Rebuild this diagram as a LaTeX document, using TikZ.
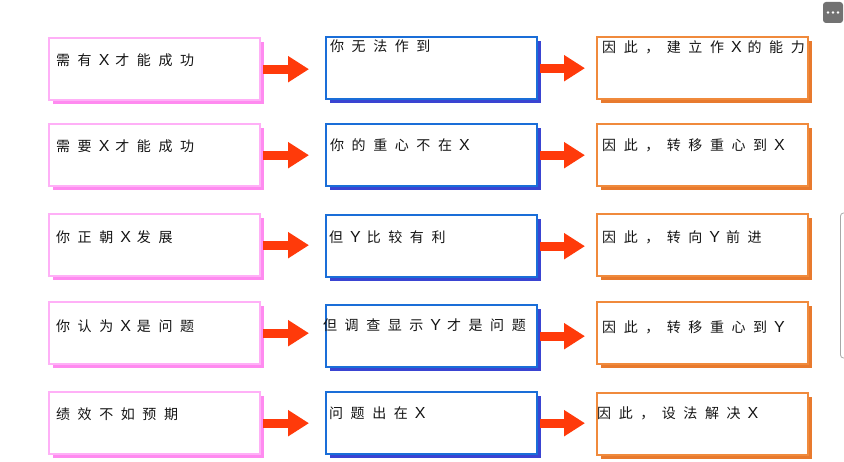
\documentclass[tikz,border=0pt]{standalone}
\usepackage{fontspec}
\newfontfamily\cjk[LetterSpace=54]{Noto Sans CJK SC}
\newfontfamily\latn{Liberation Sans}
\newcommand{\LX}[1]{\hspace{7pt}{\latn\fontsize{16}{16}\selectfont #1}\hspace{6pt}}
\usetikzlibrary{arrows.meta,calc,shadows}
\definecolor{pinkline}{HTML}{FFB0F7}
\definecolor{pinkshadow}{HTML}{FF8AF0}
\definecolor{blueline}{HTML}{1A6ED8}
\definecolor{blueshadow}{HTML}{3A44D2}
\definecolor{orangeline}{HTML}{F08A3C}
\definecolor{orangeshadow}{HTML}{E87A2E}
\definecolor{arrowred}{HTML}{FF3A0A}
\definecolor{textgray}{HTML}{141414}
\definecolor{uigray}{HTML}{727272}
\definecolor{paneledge}{HTML}{A8A8A8}
\tikzset{
  boxbase/.style={draw, line width=2.4pt, fill=white, minimum width=211pt,
    minimum height=62pt, inner sep=0pt, anchor=north west},
  pinkbox/.style={boxbase, draw=pinkline,
    drop shadow={shadow xshift=3.5pt, shadow yshift=-3.5pt, fill=pinkshadow, opacity=1}},
  bluebox/.style={boxbase, draw=blueline,
    drop shadow={shadow xshift=3.5pt, shadow yshift=-3.5pt, fill=blueshadow, opacity=1}},
  orangebox/.style={boxbase, draw=orangeline,
    drop shadow={shadow xshift=3.5pt, shadow yshift=-3.5pt, fill=orangeshadow, opacity=1}},
  txt/.style={font=\cjk\fontsize{14}{16}\selectfont, text=textgray, anchor=west, inner sep=0pt},
  flowa/.style={draw=arrowred, line width=9pt, -{Triangle[length=21pt,width=25pt]},
    shorten <=1.5pt, shorten >=16pt},
  flowb/.style={draw=arrowred, line width=9pt, -{Triangle[length=21pt,width=25pt]},
    shorten <=1.5pt, shorten >=11pt},
  uibutton/.style={fill=uigray, rounded corners=3pt, minimum width=20pt, minimum height=21pt, inner sep=0pt},
  uidot/.style={circle, fill=white, minimum size=2.6pt, inner sep=0pt}
}
\begin{document}
\begin{tikzpicture}[x=1pt,y=-1pt]
\clip (0,0) rectangle (844,462);
\fill[white] (0,0) rectangle (844,462);

% column 1
\node[pinkbox] (a1) at (48,37) {};
\node[pinkbox] (a2) at (48,123) {};
\node[pinkbox] (a3) at (48,213) {};
\node[pinkbox] (a4) at (48,301) {};
\node[pinkbox] (a5) at (48,391) {};
% column 2
\node[bluebox] (b1) at (325,36) {};
\node[bluebox] (b2) at (325,123) {};
\node[bluebox] (b3) at (325,214) {};
\node[bluebox] (b4) at (325,304) {};
\node[bluebox] (b5) at (325,391) {};
% column 3
\node[orangebox] (c1) at (596,36) {};
\node[orangebox] (c2) at (596,123) {};
\node[orangebox] (c3) at (596,213) {};
\node[orangebox] (c4) at (596,301) {};
\node[orangebox] (c5) at (596,392) {};

% texts
\node[txt] (a1t) at ($(a1.north west)+(8,23)$) {需有\LX{X}才能成功};
\node[txt] (a2t) at ($(a2.north west)+(8,23)$) {需要\LX{X}才能成功};
\node[txt] (a3t) at ($(a3.north west)+(8,24)$) {你正朝\LX{X}发展};
\node[txt] (a4t) at ($(a4.north west)+(8,25)$) {你认为\LX{X}是问题};
\node[txt] (a5t) at ($(a5.north west)+(8,23)$) {绩效不如预期};

\node[txt] (b1t) at ($(b1.north west)+(5,10)$) {你无法作到};
\node[txt] (b2t) at ($(b2.north west)+(5,22)$) {你的重心不在\LX{X}};
\node[txt] (b3t) at ($(b3.north west)+(4,23)$) {但\LX{Y}比较有利};
\node[txt] (b4t) at ($(b4.north west)+(-2,21)$) {但调查显示\LX{Y}才是问题};
\node[txt] (b5t) at ($(b5.north west)+(4,22)$) {问题出在\LX{X}};

\node[txt] (c1t) at ($(c1.north west)+(6,11)$) {因此，建立作\LX{X}的能力};
\node[txt] (c2t) at ($(c2.north west)+(6,22)$) {因此，转移重心到\LX{X}};
\node[txt] (c3t) at ($(c3.north west)+(6,24)$) {因此，转向\LX{Y}前进};
\node[txt] (c4t) at ($(c4.north west)+(6,26)$) {因此，转移重心到\LX{Y}};
\node[txt] (c5t) at ($(c5.north west)+(1,21)$) {因此，设法解决\LX{X}};

% arrows
\foreach \i in {1,...,5}{
  \draw[flowa] (a\i.east) -- (b\i.west |- a\i.east);
  \draw[flowb] (b\i.east) -- (c\i.west |- b\i.east);
}

% screen furniture
\node[uibutton] (more) at (833,12.5) {};
\node[uidot] (d1) at ($(more.center)+(-5,0)$) {};
\node[uidot] (d2) at (more.center) {};
\node[uidot] (d3) at ($(more.center)+(5,0)$) {};
\draw[paneledge, line width=0.8pt, rounded corners=3pt] (850,213) -- (840.5,213) -- (840.5,358) -- (850,358);
\end{tikzpicture}
\end{document}
